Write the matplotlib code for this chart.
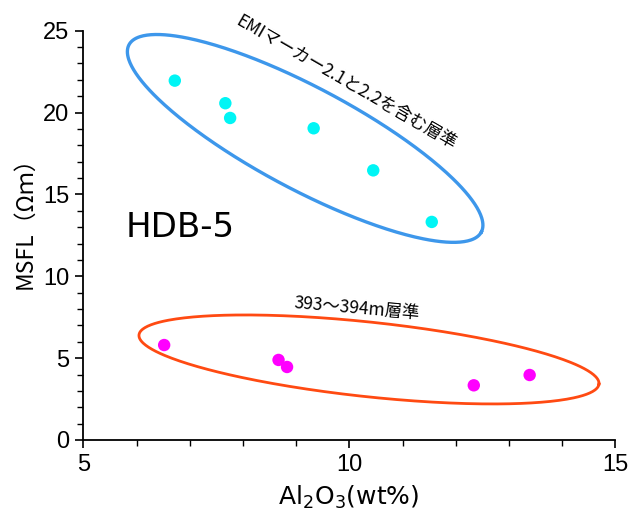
import numpy as np
import matplotlib
matplotlib.use("Agg")
import matplotlib.pyplot as plt
from matplotlib import font_manager

# Al2O3 (wt%) vs MSFL (Ohm m) for borehole HDB-5
emi_al2o3 = [6.72, 7.67, 7.76, 9.33, 10.45, 11.55]
emi_msfl = [21.95, 20.57, 19.67, 19.04, 16.47, 13.32]

lower_al2o3 = [6.52, 8.67, 8.83, 12.34, 13.39]
lower_msfl = [5.80, 4.89, 4.46, 3.34, 3.97]

x_ticks = [5, 10, 15]
y_ticks = [0, 5, 10, 15, 20, 25]

available = {f.name for f in font_manager.fontManager.ttflist}
narrow = "Liberation Sans Narrow" if "Liberation Sans Narrow" in available else "Liberation Sans"
jp = ["Noto Sans CJK JP", "DejaVu Sans"]

W, H, DPI = 628, 514, 100
fig = plt.figure(figsize=(W / DPI, H / DPI), dpi=DPI)
ax = fig.add_axes([83.3 / W, 1 - 440 / H, (615.3 - 83.3) / W, (440 - 30.7) / H])

ax.set_xlim(5, 15)
ax.set_ylim(0, 25)
for s in ("top", "right"):
    ax.spines[s].set_visible(False)
for s in ("left", "bottom"):
    ax.spines[s].set_linewidth(1.3)
ax.set_xticks(x_ticks)
ax.set_yticks(y_ticks)
ax.set_xticks(np.arange(5, 16, 1), minor=True)
ax.set_yticks(np.arange(0, 26, 1), minor=True)
ax.tick_params(which="major", direction="out", length=6, width=1.2, pad=4)
ax.tick_params(which="minor", direction="out", length=4, width=1.0)
for lab in ax.get_xticklabels() + ax.get_yticklabels():
    lab.set_family(narrow)
    lab.set_fontsize(17)

ax.scatter(emi_al2o3, emi_msfl, s=80, color="#00F5F5", edgecolors="none", zorder=3)
ax.scatter(lower_al2o3, lower_msfl, s=80, color="#FF00FF", edgecolors="none", zorder=3)

# px per data unit, used to draw ellipses that are round on screen
px_x = (615.3 - 83.3) / 10
px_y = (440 - 30.7) / 25


def screen_ellipse(cx, cy, a_px, b_px, angle_deg, **kw):
    t = np.linspace(0, 2 * np.pi, 400)
    th = np.deg2rad(angle_deg)
    dx = a_px * np.cos(t) * np.cos(th) - b_px * np.sin(t) * np.sin(th)
    dy = a_px * np.cos(t) * np.sin(th) + b_px * np.sin(t) * np.cos(th)
    ax.plot(cx + dx / px_x, cy + dy / px_y, **kw)


screen_ellipse(9.17, 18.42, 199.5, 51.0, -28.0, color="#3D97EB", lw=2.4, zorder=2)
screen_ellipse(10.37, 4.92, 231.3, 37.3, -6.1, color="#FF4A12", lw=2.0, zorder=2)

ax.text(9.94, 21.85, "EMIマーカー2.1と2.2を含む層準", family=jp, fontsize=12.5,
        rotation=-30, ha="center", va="center", rotation_mode="anchor")
ax.text(10.15, 8.05, "393～394m層準", family=jp, fontsize=12.5,
        rotation=-5, ha="center", va="center", rotation_mode="anchor")
ax.text(6.83, 13.0, "HDB-5", family="DejaVu Sans", fontsize=24.5,
        ha="center", va="center")

fig.text(25 / W, 1 - 217 / H, "MSFL（Ωｍ）", family=jp, fontsize=16.5,
         rotation=90, ha="center", va="center")
fig.text(349 / W, 1 - 497 / H, r"Al$_2$O$_3$(wt%)", family="DejaVu Sans",
         fontsize=18, ha="center", va="center")

fig.savefig("out.png", dpi=DPI)
